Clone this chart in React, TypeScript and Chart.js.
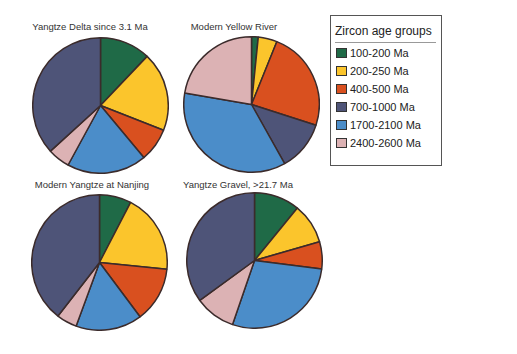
import React, { useEffect, useRef } from "react";
import { Chart, registerables } from "chart.js";
Chart.register(...registerables);

// Legend order
const ageGroups = ["100-200 Ma", "200-250 Ma", "400-500 Ma", "700-1000 Ma", "1700-2100 Ma", "2400-2600 Ma"];
const groupColors = ["#1f6a47", "#fbc52c", "#d9501f", "#4e5478", "#4b8dc9", "#dcb2b4"];

// Percent of zircons per age group (legend order)
const yangtzeDelta = [12.1, 18.9, 8.0, 36.8, 19.0, 5.3];
const yellowRiver = [1.6, 4.5, 23.9, 11.9, 35.9, 22.3];
const nanjing = [7.6, 19.0, 13.2, 39.5, 15.8, 4.9];
const gravel = [10.9, 9.6, 6.5, 35.0, 28.2, 9.7];

// Clockwise slice order (indices into legend order)
const orderA = [0, 1, 2, 4, 5, 3];
const orderB = [0, 1, 2, 3, 4, 5];

const pieTitles = ["Yangtze Delta since 3.1 Ma", "Modern Yellow River", "Modern Yangtze at Nanjing", "Yangtze Gravel, >21.7 Ma"];

const FONT = "'Liberation Sans', Arial, sans-serif";
const SIZE = 137;

function Pie({ values, order, cx, cy }: { values: number[]; order: number[]; cx: number; cy: number }) {
  const ref = useRef<HTMLCanvasElement>(null);
  useEffect(() => {
    if (!ref.current) return;
    const chart = new Chart(ref.current, {
      type: "pie",
      data: {
        labels: order.map((i) => ageGroups[i]),
        datasets: [
          {
            data: order.map((i) => values[i]),
            backgroundColor: order.map((i) => groupColors[i]),
            borderColor: "#3b2b2b",
            borderWidth: 1.5,
          },
        ],
      },
      options: {
        animation: false,
        responsive: false,
        maintainAspectRatio: false,
        layout: { padding: 0 },
        plugins: { legend: { display: false }, tooltip: { enabled: false }, title: { display: false } },
      },
    });
    return () => chart.destroy();
  }, []);
  return (
    <canvas
      ref={ref}
      width={SIZE}
      height={SIZE}
      style={{ position: "absolute", left: cx - SIZE / 2, top: cy - SIZE / 2, width: SIZE, height: SIZE }}
    />
  );
}

function Title({ text, cx, cy }: { text: string; cx: number; cy: number }) {
  return (
    <div
      style={{
        position: "absolute",
        left: cx - 100,
        top: cy - 7,
        width: 200,
        height: 14,
        lineHeight: "14px",
        textAlign: "center",
        fontFamily: FONT,
        fontSize: 9.5,
        color: "#333",
        whiteSpace: "nowrap",
      }}
    >
      {text}
    </div>
  );
}

export default function App() {
  return (
    <div style={{ position: "fixed", left: 0, top: 0, width: 517, height: 354, background: "#fff", overflow: "hidden" }}>
      <Title text={pieTitles[0]} cx={90} cy={27} />
      <Title text={pieTitles[1]} cx={234} cy={27} />
      <Title text={pieTitles[2]} cx={92} cy={185} />
      <Title text={pieTitles[3]} cx={238} cy={185} />
      <Pie values={yangtzeDelta} order={orderA} cx={100} cy={105} />
      <Pie values={yellowRiver} order={orderB} cx={251.5} cy={104.5} />
      <Pie values={nanjing} order={orderA} cx={99.5} cy={262} />
      <Pie values={gravel} order={orderA} cx={254} cy={260.5} />
      <div
        style={{
          position: "absolute",
          left: 330,
          top: 15,
          width: 112,
          height: 151,
          border: "1px solid #555",
          boxSizing: "border-box",
          fontFamily: FONT,
          color: "#222",
        }}
      >
        <div style={{ position: "absolute", left: 4, top: 8, fontSize: 12, lineHeight: "14px", whiteSpace: "nowrap" }}>
          Zircon age groups
        </div>
        <div style={{ position: "absolute", left: 4, top: 26, width: 101, height: 1, background: "#999" }} />
        {ageGroups.map((g, i) => (
          <div key={g} style={{ position: "absolute", left: 4, top: 31 + i * 17.9, height: 13, whiteSpace: "nowrap" }}>
            <span
              style={{
                position: "absolute",
                left: 1,
                top: 1,
                width: 11,
                height: 10,
                background: groupColors[i],
                border: "1px solid #333",
                boxSizing: "border-box",
              }}
            />
            <span style={{ position: "absolute", left: 15, top: 0, fontSize: 11, lineHeight: "13px" }}>{g}</span>
          </div>
        ))}
      </div>
    </div>
  );
}
